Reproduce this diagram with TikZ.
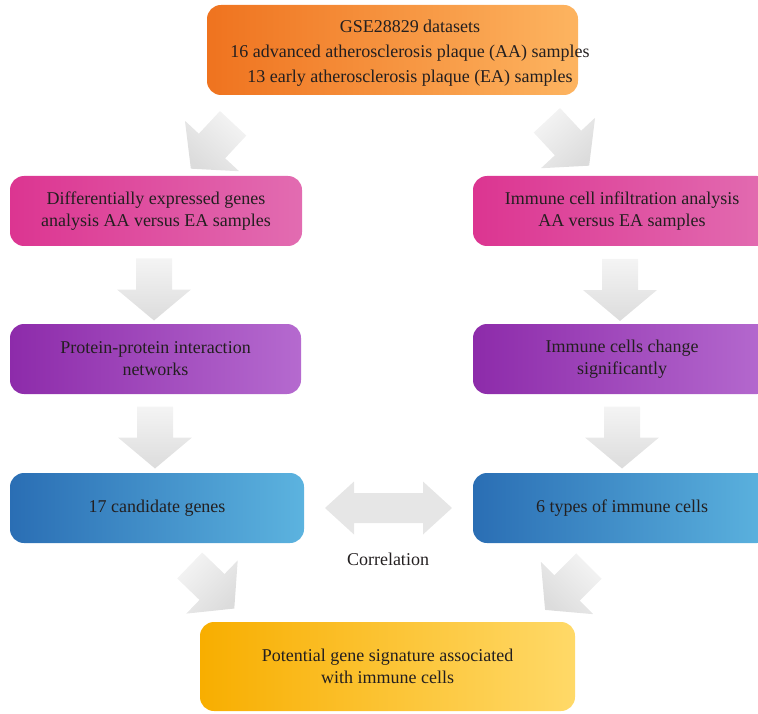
\documentclass[tikz,border=0pt]{standalone}
\usepackage{fontspec}
\setmainfont{Liberation Serif}
\usetikzlibrary{calc}
\definecolor{orL}{HTML}{EF731F}
\definecolor{orR}{HTML}{FDB460}
\definecolor{pkL}{HTML}{DC3591}
\definecolor{pkR}{HTML}{E26CB1}
\definecolor{puL}{HTML}{8D2BAA}
\definecolor{puR}{HTML}{B56ACF}
\definecolor{blL}{HTML}{2A6EB4}
\definecolor{blR}{HTML}{5CB3DF}
\definecolor{yeL}{HTML}{F8AE00}
\definecolor{yeR}{HTML}{FFD968}
\definecolor{txt}{HTML}{231F20}
\definecolor{arLight}{HTML}{F4F4F4}
\definecolor{arDark}{HTML}{DCDCDC}
\tikzset{
  box/.style={rounded corners=14pt, inner sep=0pt, align=center, text=txt},
  barrow/.pic={
    \pgfmathsetmacro\arrowshadeangle{#1+90}
    \shade[rotate=#1, left color=arLight, right color=arDark, shading angle=\arrowshadeangle]
      (-31,-18) -- (0,-18) -- (0,-37) -- (31,0) -- (0,37) -- (0,18) -- (-31,18) -- cycle;
  },
  darrow/.pic={
    \shade[left color=arDark!60!arLight, middle color=arDark, right color=arDark!60!arLight]
      (-63.5,0) -- (-34.5,-26.5) -- (-34.5,-15) -- (34.5,-15) -- (34.5,-26.5) -- (63.5,0)
      -- (34.5,26.5) -- (34.5,15) -- (-34.5,15) -- (-34.5,26.5) -- cycle;
  }
}
\begin{document}
\begin{tikzpicture}[x=1pt, y=-1pt, font=\fontsize{18}{22}\selectfont]
\useasboundingbox (0,0) rectangle (758,714);
\clip (0,0) rectangle (758,714);

% boxes
\node[box, minimum width=371pt, minimum height=90pt, left color=orL, right color=orR] (top) at (392.5,50) {};
\node[align=center, text=txt, inner sep=0pt, font=\fontsize{18}{25}\selectfont] (toptext) at (410,53)
  {GSE28829 datasets\\16 advanced atherosclerosis plaque (AA) samples\\13 early atherosclerosis plaque (EA) samples};

\node[box, minimum width=292pt, minimum height=70pt, left color=pkL, right color=pkR] (deg) at (156,211)
  {Differentially expressed genes\\analysis AA versus EA samples};
\node[box, minimum width=298pt, minimum height=70pt, left color=pkL, right color=pkR] (ici) at (622,211)
  {Immune cell infiltration analysis\\AA versus EA samples};

\node[box, minimum width=291pt, minimum height=70pt, left color=puL, right color=puR] (ppi) at (155.5,359)
  {Protein-protein interaction\\networks};
\node[box, minimum width=298pt, minimum height=70pt, left color=puL, right color=puR] (icc) at (622,359)
  {Immune cells change\\significantly};

\node[box, minimum width=294pt, minimum height=70pt, left color=blL, right color=blR] (cand) at (157,508)
  {17 candidate genes};
\node[box, minimum width=298pt, minimum height=70pt, left color=blL, right color=blR] (types) at (622,508)
  {6 types of immune cells};

\node[box, minimum width=375pt, minimum height=89pt, left color=yeL, right color=yeR] (sig) at (387.5,666.5)
  {Potential gene signature associated\\with immune cells};

% block arrows
\pic at (212,146) {barrow=-133};
\pic at (568,143) {barrow=-47};
\pic at (154,289.5) {barrow=-90};
\pic at (620,290) {barrow=-90};
\pic at (155,437.5) {barrow=-90};
\pic at (622,437.5) {barrow=-90};
\pic at (212,587) {barrow=-44};
\pic at (567,588) {barrow=-135};
\pic at ($(cand.east)!0.5!(types.west)$) {darrow};

\node[text=txt, inner sep=0pt, anchor=base] (corr) at (388,565) {Correlation};
\end{tikzpicture}
\end{document}
